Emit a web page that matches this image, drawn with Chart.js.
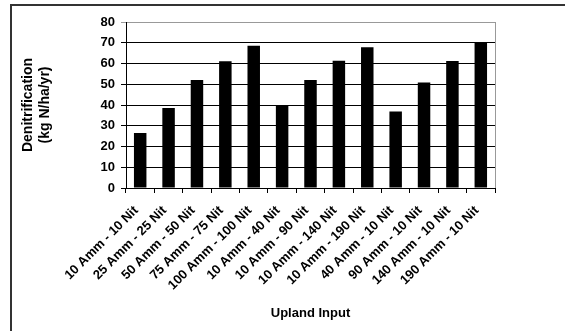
<!DOCTYPE html>
<html>
<head>
<meta charset="utf-8">
<script src="https://cdn.jsdelivr.net/npm/chart.js@4/dist/chart.umd.min.js"></script>
<style>
  html, body { margin: 0; padding: 0; background: #fff; }
  #wrap { width: 565px; height: 331px; position: relative; }
</style>
</head>
<body>
<div id="wrap"><canvas id="c" width="565" height="331"></canvas></div>
<script>
// Upland input scenarios (ammonium - nitrate loads)
const categories = [
  "10 Amm - 10 Nit", "25 Amm - 25 Nit", "50 Amm - 50 Nit", "75 Amm - 75 Nit",
  "100 Amm - 100 Nit", "10 Amm - 40 Nit", "10 Amm - 90 Nit", "10 Amm - 140 Nit",
  "10 Amm - 190 Nit", "40 Amm - 10 Nit", "90 Amm - 10 Nit", "140 Amm - 10 Nit",
  "190 Amm - 10 Nit"
];
// Denitrification, kg N/ha/yr
const denitrification = [26.5, 38.6, 52.1, 61.1, 68.5, 39.5, 52.1, 61.3, 67.8, 36.9, 50.9, 61.2, 70.2];
const yTitle = ["Denitrification", "(kg N/ha/yr)"];
const xTitle = "Upland Input";

// Frame lines on the left and top, plus the grey right edge of the plot box
const framePlugin = {
  id: 'frame',
  afterDraw(chart) {
    const ctx = chart.ctx;
    const a = chart.chartArea;
    ctx.save();
    ctx.strokeStyle = '#333';
    ctx.lineWidth = 2;
    ctx.beginPath();
    ctx.moveTo(11, 331);
    ctx.lineTo(11, 5);
    ctx.lineTo(565, 5);
    ctx.stroke();
    ctx.strokeStyle = '#999';
    ctx.lineWidth = 1;
    ctx.beginPath();
    ctx.moveTo(Math.round(a.right) + 0.5, a.top);
    ctx.lineTo(Math.round(a.right) + 0.5, a.bottom);
    ctx.stroke();
    ctx.restore();
  }
};

Chart.defaults.font.family = "'Liberation Sans', Arial, sans-serif";
Chart.defaults.color = '#000';

new Chart(document.getElementById('c'), {
  type: 'bar',
  data: {
    labels: categories,
    datasets: [{
      data: denitrification,
      backgroundColor: '#000',
      borderWidth: 0,
      barPercentage: 0.44,
      categoryPercentage: 1.0
    }]
  },
  options: {
    responsive: false,
    animation: false,
    layout: { padding: { top: 22, right: 70, left: 0, bottom: 0 } },
    plugins: { legend: { display: false }, tooltip: { enabled: false } },
    scales: {
      x: {
        afterFit(scale) { scale.height = 143; },
        grid: { drawOnChartArea: false, offset: true, tickLength: 5, color: '#000' },
        border: { color: '#000', width: 1 },
        ticks: {
          autoSkip: false, minRotation: 45, maxRotation: 45, padding: 10, labelOffset: -4,
          font: { size: 13, weight: 'bold' }
        },
        title: {
          display: true, text: xTitle,
          font: { size: 13, weight: 'bold' },
          padding: { top: 0, bottom: 10 }
        }
      },
      y: {
        min: 0, max: 80,
        afterFit(scale) { scale.width = 126; },
        grid: {
          tickLength: 5,
          color: (c) => (c.tick && c.tick.value === 80) ? '#999' : '#000'
        },
        border: { color: '#000', width: 1 },
        ticks: { stepSize: 10, padding: 6, font: { size: 13, weight: 'bold' } },
        title: {
          display: true, text: yTitle,
          font: { size: 14, weight: 'bold' },
          padding: { top: 20, bottom: 0 }
        }
      }
    }
  },
  plugins: [framePlugin]
});
</script>
</body>
</html>
